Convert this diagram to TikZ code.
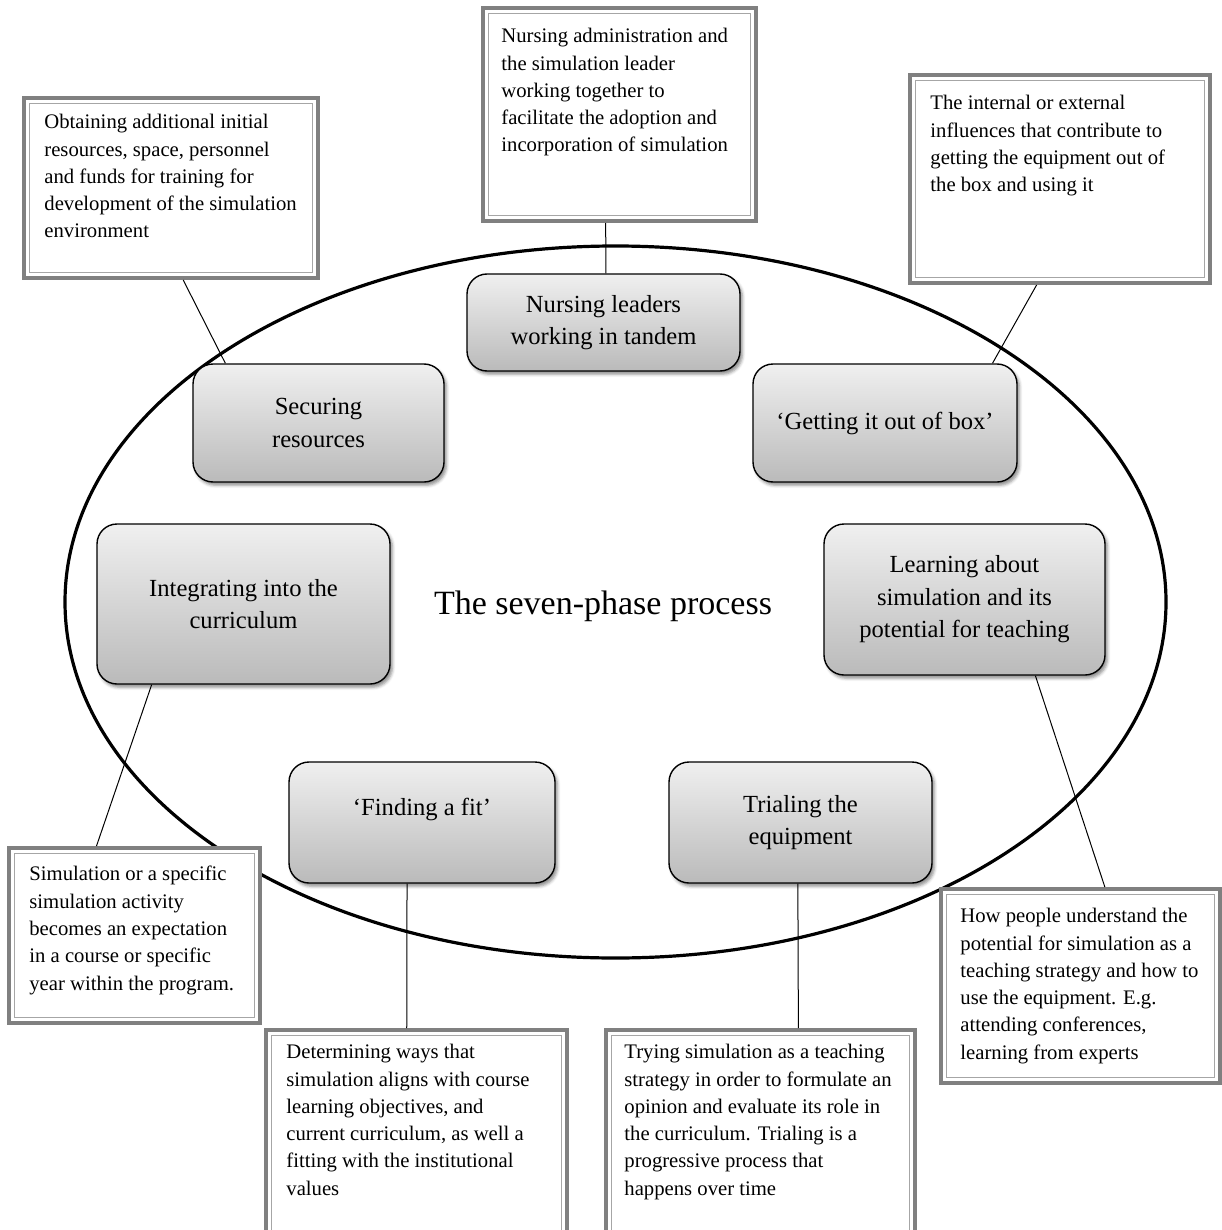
\documentclass[tikz,border=0pt]{standalone}
\usepackage{fontspec}
\setmainfont{Liberation Serif}
\usetikzlibrary{fit,calc,shapes.geometric,shadows.blur}

\begin{document}
\begin{tikzpicture}[x=0.5pt,y=-0.5pt,
  tframe/.style={draw=black!50, line width=2pt, fill=white, inner sep=0pt,
    path picture={\draw[black!35, line width=0.5pt]
      ([shift={(2.7pt,2.7pt)}]path picture bounding box.south west) rectangle
      ([shift={(-2.7pt,-2.7pt)}]path picture bounding box.north east);}},
  ttext/.style={anchor=north west, inner sep=0pt, align=left,
    font=\fontsize{10.35pt}{13.65pt}\selectfont},
  phase/.style={draw=black, line width=0.7pt, rounded corners=10pt,
    top color=black!6, bottom color=black!27, inner sep=0pt,
    blur shadow={shadow xshift=1.2pt, shadow yshift=-1.6pt,
      shadow blur radius=1.5pt, shadow opacity=45}},
  ptext/.style={inner sep=0pt, align=center,
    font=\fontsize{12.3pt}{16.25pt}\selectfont},
  conn/.style={draw=black, line width=0.5pt},
  ring/.style={draw=black, line width=1.6pt, ellipse, inner sep=0pt},
]
\useasboundingbox (0,0) rectangle (1221,1230);

% the big ellipse
\node[ring, minimum width=550.5pt, minimum height=356pt] (ring) at (615.5,602) {};

% title
\node[font=\fontsize{17pt}{20pt}\selectfont, inner sep=0pt] (title) at (603,606) {The seven-phase process};

% text boxes (frames)
\node[tframe, fit={(24,98) (318,278)}] (tl) {};
\node[tframe, fit={(483,8) (756,221)}] (tc) {};
\node[tframe, fit={(910,75) (1210,283)}] (tr) {};
\node[tframe, fit={(9,848) (260,1023)}] (bl) {};
\node[tframe, fit={(941,889) (1220,1083)}] (br) {};
\node[tframe, fit={(266,1030) (567,1236)}] (bm1) {};
\node[tframe, fit={(606,1030) (915,1236)}] (bm2) {};

% texts of the boxes
\node[ttext] (tlt) at ([shift={(22,18)}]tl.north west) {Obtaining additional initial\\resources, space, personnel\\and funds for training for\\development of the simulation\\environment};
\node[ttext] (tct) at ([shift={(20,22)}]tc.north west) {Nursing administration and\\the simulation leader\\working together to\\facilitate the adoption and\\incorporation of simulation};
\node[ttext] (trt) at ([shift={(22,22)}]tr.north west) {The internal or external\\influences that contribute to\\getting the equipment out of\\the box and using it};
\node[ttext] (blt) at ([shift={(22,20)}]bl.north west) {Simulation or a specific\\simulation activity\\becomes an expectation\\in a course or specific\\year within the program.};
\node[ttext] (brt) at ([shift={(21,21)}]br.north west) {How people understand the\\potential for simulation as a\\teaching strategy and how to\\use the equipment. E.g.\\attending conferences,\\learning from experts};
\node[ttext] (bm1t) at ([shift={(22,16)}]bm1.north west) {Determining ways that\\simulation aligns with course\\learning objectives, and\\current curriculum, as well a\\fitting with the institutional\\values};
\node[ttext] (bm2t) at ([shift={(20,16)}]bm2.north west) {Trying simulation as a teaching\\strategy in order to formulate an\\opinion and evaluate its role in\\the curriculum. Trialing is a\\progressive process that\\happens over time};

% phase boxes
\node[phase, fit={(467,274) (740,371)}] (nur) {};
\node[phase, fit={(193,364) (444,482)}] (sec) {};
\node[phase, fit={(753,364) (1017,482)}] (get) {};
\node[phase, fit={(97,524) (390,684)}] (int) {};
\node[phase, fit={(824,524) (1105,675)}] (lrn) {};
\node[phase, fit={(289,762) (555,883)}] (fin) {};
\node[phase, fit={(669,762) (932,883)}] (tri) {};

% phase labels
\node[ptext] (nurt) at ([shift={(0,0)}]nur.center) {Nursing leaders\\working in tandem};
\node[ptext] (sect) at ([shift={(0,0)}]sec.center) {Securing\\resources};
\node[ptext] (gett) at ([shift={(0,0)}]get.center) {‘Getting it out of box’};
\node[ptext] (intt) at ([shift={(0,0)}]int.center) {Integrating into the\\curriculum};
\node[ptext] (lrnt) at ([shift={(0,0)}]lrn.center) {Learning about\\simulation and its\\potential for teaching};
\node[ptext] (fint) at ([shift={(0,-13)}]fin.center) {‘Finding a fit’};
\node[ptext] (trit) at ([shift={(0,0)}]tri.center) {Trialing the\\equipment};

% connectors
\draw[conn] ($(tc.south west)!0.45!(tc.south east)$) -- ($(nur.north west)!0.509!(nur.north east)$);
\draw[conn] ($(tl.south west)!0.541!(tl.south east)$) -- ($(sec.north west)!0.131!(sec.north east)$);
\draw[conn] ($(tr.south west)!0.423!(tr.south east)$) -- ($(get.north west)!0.905!(get.north east)$);
\draw[conn] ($(int.south west)!0.188!(int.south east)$) -- ($(bl.north west)!0.351!(bl.north east)$);
\draw[conn] ($(lrn.south west)!0.751!(lrn.south east)$) -- ($(br.north west)!0.586!(br.north east)$);
\draw[conn] ($(fin.south west)!0.444!(fin.south east)$) -- ($(bm1.north west)!0.468!(bm1.north east)$);
\draw[conn] ($(tri.south west)!0.49!(tri.south east)$) -- ($(bm2.north west)!0.621!(bm2.north east)$);
\end{tikzpicture}
\end{document}
